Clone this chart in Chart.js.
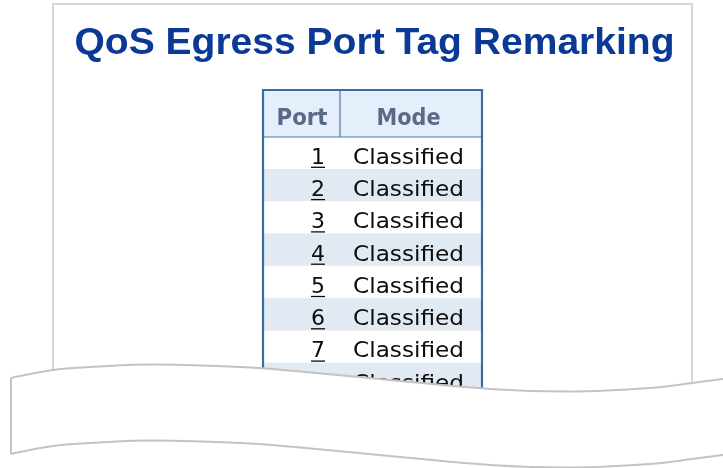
<!DOCTYPE html>
<html><head><meta charset="utf-8">
<script src="https://cdn.jsdelivr.net/npm/chart.js@4.4.1/dist/chart.umd.min.js"></script>
<style>html,body{margin:0;padding:0;background:#fff;overflow:hidden}canvas{display:block}</style>
</head><body><canvas id="c" width="723" height="468"></canvas>
<script>
const pageTitle = 'QoS Egress Port Tag Remarking';
const columnHeaders = ['Port', 'Mode'];
const ports = ['1', '2', '3', '4', '5', '6', '7', '8'];
const modes = ['Classified', 'Classified', 'Classified', 'Classified', 'Classified', 'Classified', 'Classified', 'Classified'];
const rowSpan = [1, 1, 1, 1, 1, 1, 1, 1];

function fitText(ctx, text, x, y, font, color, targetW, align) {
  ctx.save();
  ctx.font = font;
  ctx.fillStyle = color;
  ctx.textBaseline = 'alphabetic';
  const w = ctx.measureText(text).width;
  const s = targetW ? targetW / w : 1;
  let left = x;
  if (align === 'center') left = x - w * s / 2;
  else if (align === 'right') left = x - w * s;
  ctx.translate(left, y);
  ctx.scale(s, 1);
  ctx.textAlign = 'left';
  ctx.fillText(text, 0, 0);
  ctx.restore();
  return w * s;
}

function smoothPath(ctx, pts, move) {
  if (move) ctx.moveTo(pts[0][0], pts[0][1]); else ctx.lineTo(pts[0][0], pts[0][1]);
  for (let i = 0; i < pts.length - 1; i++) {
    const p0 = pts[Math.max(i - 1, 0)], p1 = pts[i], p2 = pts[i + 1], p3 = pts[Math.min(i + 2, pts.length - 1)];
    ctx.bezierCurveTo(p1[0] + (p2[0] - p0[0]) / 6, p1[1] + (p2[1] - p0[1]) / 6,
                      p2[0] - (p3[0] - p1[0]) / 6, p2[1] - (p3[1] - p1[1]) / 6, p2[0], p2[1]);
  }
}

const tablePlugin = {
  id: 'tablePlugin',
  beforeDraw(chart) {
    const ctx = chart.ctx;
    ctx.save();
    ctx.fillStyle = '#ffffff';
    ctx.fillRect(0, 0, chart.width, chart.height);
    ctx.strokeStyle = '#d7d7d7';
    ctx.lineWidth = 2;
    ctx.strokeRect(53, 4, 639, 520);
    ctx.restore();
  },
  afterDatasetsDraw(chart) {
    const ctx = chart.ctx;
    const ca = chart.chartArea;
    const ys = chart.scales.y;
    const L = ca.left, R = ca.right;
    const headTop = 90, colX = 340;
    ctx.save();
    // header
    ctx.fillStyle = '#e5effb';
    ctx.fillRect(L, headTop, R - L, ca.top - headTop);
    fitText(ctx, columnHeaders[0], (L + colX) / 2, 125, 'bold 23px "DejaVu Sans"', '#5a6987', 51, 'center');
    fitText(ctx, columnHeaders[1], (colX + R) / 2 - 2, 125, 'bold 23px "DejaVu Sans"', '#5a6987', 64, 'center');
    // body rows
    ports.forEach((p, i) => {
      const cy = ys.getPixelForValue(i);
      const base = cy + 10.5;
      const w = fitText(ctx, p, 325, base, '22px "DejaVu Sans"', '#0c0c0c', null, 'right');
      ctx.fillStyle = '#0c0c0c';
      ctx.fillRect(325 - w, base + 3, w, 1.3);
      fitText(ctx, modes[i], 353, base, '22px "DejaVu Sans"', '#0c0c0c', 111, 'left');
    });
    // lines
    ctx.strokeStyle = '#4b79ad';
    ctx.lineWidth = 1.2;
    ctx.beginPath();
    ctx.moveTo(colX, headTop); ctx.lineTo(colX, ca.top);
    ctx.moveTo(L, ca.top); ctx.lineTo(R, ca.top);
    ctx.stroke();
    ctx.strokeStyle = '#3b6ca4';
    ctx.lineWidth = 2.2;
    ctx.beginPath();
    ctx.moveTo(L - 1, ca.bottom + 20); ctx.lineTo(L - 1, headTop); ctx.lineTo(R + 1, headTop); ctx.lineTo(R + 1, ca.bottom + 20);
    ctx.stroke();
    // title
    fitText(ctx, pageTitle, 374.5, 54, 'bold 37px "Liberation Sans"', '#0a3996', 600, 'center');
    // torn overlay
    const top = [[11, 378], [53, 370], [100, 366.5], [155, 364.5], [240, 367], [300, 371.5], [400, 381], [490, 389], [570, 391.5], [650, 388], [692, 383], [723, 379], [760, 374]];
    const bot = top.map(([x, y]) => [x, y + 76]);
    ctx.fillStyle = '#ffffff';
    ctx.beginPath();
    smoothPath(ctx, top, true);
    ctx.lineTo(780, 480); ctx.lineTo(11, 480); ctx.closePath();
    ctx.fill();
    ctx.strokeStyle = '#c3c3c3';
    ctx.lineWidth = 2;
    ctx.beginPath();
    smoothPath(ctx, top, true);
    ctx.stroke();
    ctx.beginPath();
    smoothPath(ctx, bot, true);
    ctx.stroke();
    ctx.beginPath();
    ctx.moveTo(11, 378); ctx.lineTo(11, 454);
    ctx.stroke();
    ctx.restore();
  }
};

new Chart(document.getElementById('c'), {
  type: 'bar',
  data: {
    labels: ports,
    datasets: [{
      data: rowSpan,
      backgroundColor: (c) => (c.dataIndex % 2 ? '#e1e9f2' : '#ffffff'),
      barPercentage: 1,
      categoryPercentage: 1,
      borderWidth: 0
    }]
  },
  options: {
    indexAxis: 'y',
    responsive: false,
    devicePixelRatio: 1,
    animation: false,
    layout: { padding: { left: 264, right: 242, top: 137, bottom: 72.6 } },
    scales: {
      x: { display: false, min: 0, max: 1 },
      y: { display: false }
    },
    plugins: { legend: { display: false }, tooltip: { enabled: false }, title: { display: false } }
  },
  plugins: [tablePlugin]
});
</script>
</body></html>
